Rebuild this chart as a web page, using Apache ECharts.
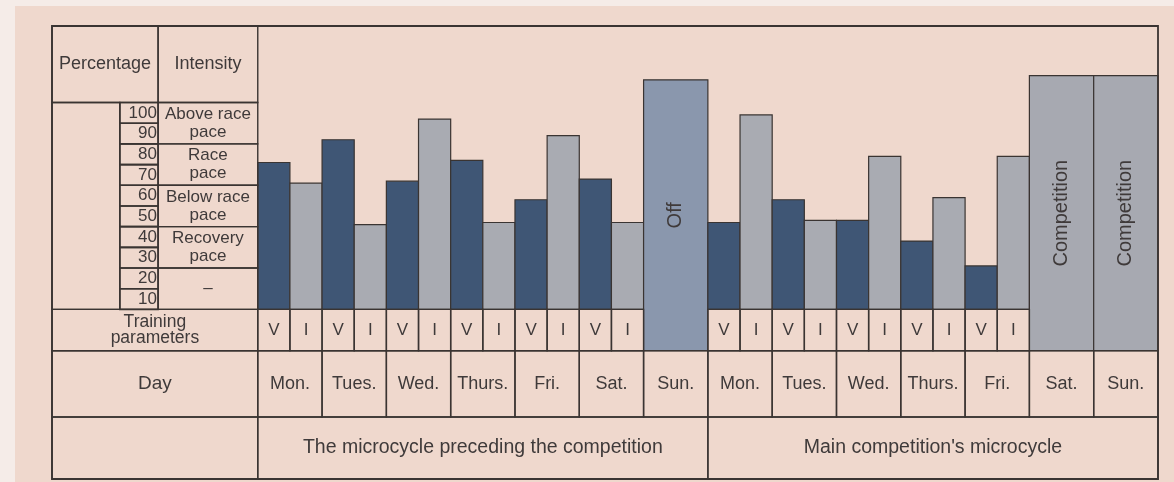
<!DOCTYPE html>
<html>
<head>
<meta charset="utf-8">
<script src="https://cdn.jsdelivr.net/npm/echarts@6.0.0/dist/echarts.min.js"></script>
<style>
html,body{margin:0;padding:0;background:#f5ece8;}
#chart{width:1174px;height:482px;}
</style>
</head>
<body>
<div id="chart"></div>
<script>
// ---------------- data ----------------
const days = ['Mon.', 'Tues.', 'Wed.', 'Thurs.', 'Fri.', 'Sat.', 'Sun.'];
const weekTitles = ['The microcycle preceding the competition', "Main competition's microcycle"];
const paramLabels = ['V', 'I'];
const week1Volume = [71, 82, 62, 72, 53, 63];
const week1Intensity = [61, 41, 92, 42, 84, 42];
const week2Volume = [42, 53, 43, 33, 21];
const week2Intensity = [94, 43, 74, 54, 74];
const offValue = 111;
const competitionValues = [113, 113];
const blockLabels = ['Off', 'Competition'];
const percentTicks = [100, 90, 80, 70, 60, 50, 40, 30, 20, 10];
const intensityBands = ['Above race\npace', 'Race\npace', 'Below race\npace', 'Recovery\npace', '–'];
const headerLabels = ['Percentage', 'Intensity', 'Training\nparameters', 'Day'];

// ---------------- styles / layout ----------------
const FONT = '"Liberation Sans", Arial, Helvetica, sans-serif';
const INK = '#3f3a3a';
const LINE = '#3a3432';
const PAPER = '#efd8cd';
const DARK = '#3f5675';
const LIGHT = '#a9abb2';
const OFFC = '#8a97ad';
const COMPC = '#a7a9b1';
// table structure in axis units
const X = { left: -6.4, num: -4.29, mid: -3.1, plot: 0, end: 28 };
const Y = { top: 137, scaleTop: 100, base: 0, train: -20, day: -52, bottom: -82 };

// ---------------- bars ----------------
const bars = [];
week1Volume.forEach((v, i) => {
  bars.push({ x0: 2 * i, x1: 2 * i + 1, y0: Y.base, y1: v, fill: DARK });
  bars.push({ x0: 2 * i + 1, x1: 2 * i + 2, y0: Y.base, y1: week1Intensity[i], fill: LIGHT });
});
bars.push({ x0: 12, x1: 14, y0: Y.train, y1: offValue, fill: OFFC, label: blockLabels[0] });
week2Volume.forEach((v, i) => {
  bars.push({ x0: 14 + 2 * i, x1: 15 + 2 * i, y0: Y.base, y1: v, fill: DARK });
  bars.push({ x0: 15 + 2 * i, x1: 16 + 2 * i, y0: Y.base, y1: week2Intensity[i], fill: LIGHT });
});
competitionValues.forEach((v, i) => {
  bars.push({ x0: 24 + 2 * i, x1: 26 + 2 * i, y0: Y.train, y1: v, fill: COMPC, label: blockLabels[1] });
});

// ---------------- table cells ----------------
const cells = [];
cells.push({ x0: X.left, x1: X.mid, y0: Y.scaleTop, y1: Y.top, text: headerLabels[0], size: 18 });
cells.push({ x0: X.mid, x1: X.plot, y0: Y.scaleTop, y1: Y.top, text: headerLabels[1], size: 18 });
cells.push({ x0: X.left, x1: X.num, y0: Y.base, y1: Y.scaleTop });
percentTicks.forEach(t => {
  cells.push({ x0: X.num, x1: X.mid, y0: t - 10, y1: t, text: String(t), size: 17, pos: 'insideRight', lw: 1.6 });
});
intensityBands.forEach((b, j) => {
  const top = Y.scaleTop - 20 * j;
  cells.push({ x0: X.mid, x1: X.plot, y0: top - 20, y1: top, text: b, size: 17, lh: 18 });
});
cells.push({ x0: X.left, x1: X.plot, y0: Y.train, y1: Y.base, text: headerLabels[2], size: 17.5, lh: 16 });
for (let i = 0; i < 12; i++) cells.push({ x0: i, x1: i + 1, y0: Y.train, y1: Y.base, text: paramLabels[i % 2], size: 17 });
for (let i = 14; i < 24; i++) cells.push({ x0: i, x1: i + 1, y0: Y.train, y1: Y.base, text: paramLabels[i % 2], size: 17 });
cells.push({ x0: X.left, x1: X.plot, y0: Y.day, y1: Y.train, text: headerLabels[3], size: 19 });
for (let d = 0; d < 14; d++) cells.push({ x0: 2 * d, x1: 2 * d + 2, y0: Y.day, y1: Y.train, text: days[d % 7], size: 18 });
cells.push({ x0: X.left, x1: X.plot, y0: Y.bottom, y1: Y.day });
weekTitles.forEach((w, k) => cells.push({ x0: 14 * k, x1: 14 * k + 14, y0: Y.bottom, y1: Y.day, text: w, size: 19.5 }));
cells.push({ x0: X.left, x1: X.end, y0: Y.bottom, y1: Y.top, lw: 1.8 });

function rectItem(c, api, fill) {
  const p0 = api.coord([c.x0, c.y1]);
  const p1 = api.coord([c.x1, c.y0]);
  const el = {
    type: 'rect',
    shape: { x: p0[0], y: p0[1], width: p1[0] - p0[0], height: p1[1] - p0[1] },
    style: { fill: fill, stroke: LINE, lineWidth: c.lw || 1.4 }
  };
  if (c.text || c.label) {
    const right = c.pos === 'insideRight';
    el.textContent = {
      style: {
        text: c.text || c.label, fontSize: c.size || 20, fill: INK, fontFamily: FONT,
        align: right ? 'right' : 'center', verticalAlign: 'middle', lineHeight: c.lh || undefined
      }
    };
    el.textConfig = { position: c.pos || 'inside', distance: 2, rotation: c.label ? Math.PI / 2 : 0 };
  }
  return el;
}

const chart = echarts.init(document.getElementById('chart'), null, { renderer: 'canvas' });
chart.setOption({
  backgroundColor: '#f5ece8',
  animation: false,
  graphic: [{ type: 'rect', z: -10, silent: true, shape: { x: 15, y: 6, width: 1174, height: 482 }, style: { fill: PAPER } }],
  grid: { left: 52, right: 16, top: 26, bottom: 3 },
  xAxis: { type: 'value', min: X.left, max: X.end, show: false },
  yAxis: { type: 'value', min: Y.bottom, max: Y.top, show: false },
  series: [
    {
      type: 'custom', silent: true, z: 2,
      data: bars.map(b => [b.x0, b.x1, b.y0, b.y1]),
      encode: { x: [0, 1], y: [2, 3] },
      renderItem: (params, api) => {
        const b = bars[params.dataIndex];
        return rectItem(Object.assign({ lw: 1.2 }, b), api, b.fill);
      }
    },
    {
      type: 'custom', silent: true, z: 3,
      data: cells.map(c => [c.x0, c.x1, c.y0, c.y1]),
      encode: { x: [0, 1], y: [2, 3] },
      renderItem: (params, api) => rectItem(cells[params.dataIndex], api, 'transparent')
    }
  ]
});
</script>
</body>
</html>
